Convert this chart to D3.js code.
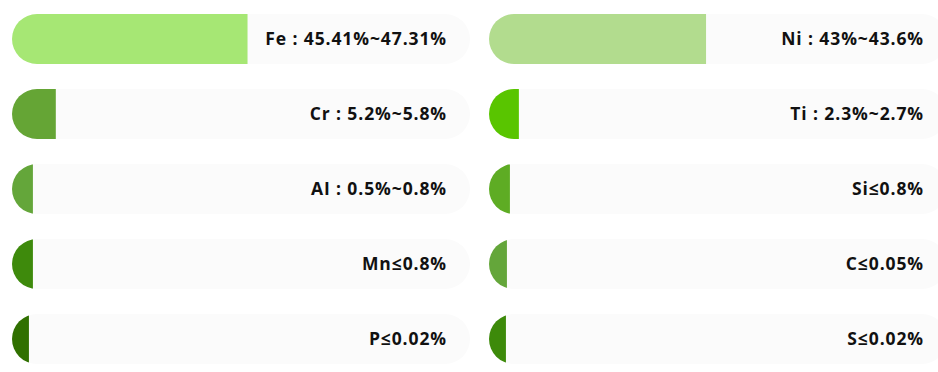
<!DOCTYPE html>
<html>
<head>
<meta charset="utf-8">
<script src="https://cdnjs.cloudflare.com/ajax/libs/d3/7.8.5/d3.min.js"></script>
<style>
  html, body { margin: 0; padding: 0; background: #fff; overflow: hidden; }
</style>
</head>
<body>
<div id="chart"></div>
<script>
/* element data, left column then right column */
var leftNames = ["Fe", "Cr", "AI", "Mn", "P"];
var leftLabels = ["Fe : 45.41%~47.31%", "Cr : 5.2%~5.8%", "AI : 0.5%~0.8%", "Mn≤0.8%", "P≤0.02%"];
var leftValues = [47.31, 8.8, 4.2, 4.2, 3.4];
var leftColors = ["#a6e774", "#65a535", "#64a63a", "#3e8a0c", "#307000"];

var rightNames = ["Ni", "Ti", "Si", "C", "S"];
var rightLabels = ["Ni : 43%~43.6%", "Ti : 2.3%~2.7%", "Si≤0.8%", "C≤0.05%", "S≤0.02%"];
var rightValues = [43.6, 6, 4.2, 3.6, 3.4];
var rightColors = ["#b2dc8e", "#59c500", "#5eac24", "#64a63a", "#3d8a0a"];

var scaleMax = 92;

var W = 938, H = 372;
var trackW = 458, barH = 50;

var svg = d3.select("#chart").append("svg")
	.attr("width", W)
	.attr("height", H);

var x = d3.scaleLinear().domain([0, scaleMax]).range([0, trackW]);
var y = d3.scaleBand().domain(d3.range(5)).range([14 - 12.5, 14 + 5 * 75 - 12.5]).paddingInner(0.3333).paddingOuter(0.1667);

function drawColumn(id, x0, names, labels, values, colors) {
	var rows = d3.range(names.length).map(function(i) {
		return { name: names[i], label: labels[i], value: values[i], color: colors[i] };
	});

	var g = svg.append("g").attr("transform", "translate(" + x0 + ",0)");

	var defs = svg.append("defs");
	defs.selectAll("clipPath")
		.data(rows)
		.enter().append("clipPath")
		.attr("id", function(d, i) { return id + "-clip-" + i; })
		.append("rect")
		.attr("x", 0)
		.attr("y", function(d, i) { return y(i); })
		.attr("width", trackW)
		.attr("height", y.bandwidth())
		.attr("rx", y.bandwidth() / 2);

	var row = g.selectAll("g.row")
		.data(rows)
		.enter().append("g")
		.attr("class", "row");

	row.append("rect")
		.attr("x", 0)
		.attr("y", function(d, i) { return y(i); })
		.attr("width", trackW)
		.attr("height", y.bandwidth())
		.attr("rx", y.bandwidth() / 2)
		.style("fill", "#fbfbfb");

	row.append("rect")
		.attr("clip-path", function(d, i) { return "url(#" + id + "-clip-" + i + ")"; })
		.attr("x", 0)
		.attr("y", function(d, i) { return y(i); })
		.attr("width", function(d) { return x(d.value); })
		.attr("height", y.bandwidth())
		.style("fill", function(d) { return d.color; });

	row.append("text")
		.attr("x", trackW - 23)
		.attr("y", function(d, i) { return y(i) + y.bandwidth() / 2; })
		.attr("dy", "0.33em")
		.attr("text-anchor", "end")
		.style("font-family", "'Open Sans', 'Noto Sans', sans-serif")
		.style("font-weight", "bold")
		.style("font-size", "17.5px")
		.style("letter-spacing", "0.9px")
		.style("fill", "#111")
		.text(function(d) { return d.label; });
}

drawColumn("left", 12, leftNames, leftLabels, leftValues, leftColors);
drawColumn("right", 489, rightNames, rightLabels, rightValues, rightColors);
</script>
</body>
</html>
